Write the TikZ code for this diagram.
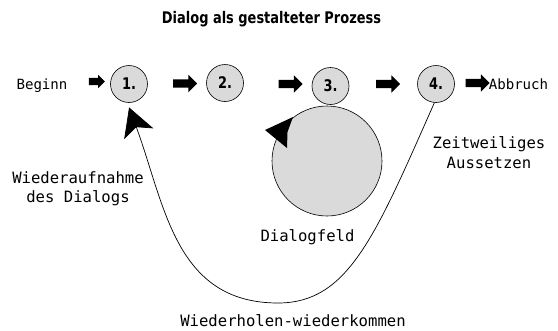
\documentclass[tikz,border=0pt]{standalone}
\usepackage{fontspec}
\setmainfont{DejaVu Sans}
\newfontfamily\monofont{DejaVu Sans Mono}
\usetikzlibrary{shapes.arrows,arrows.meta,calc}
\definecolor{circgray}{RGB}{218,218,218}
\begin{document}
\begin{tikzpicture}[x=1pt,y=-1pt,
  stepc/.style={circle, draw=black, line width=0.6pt, fill=circgray, minimum size=37pt, inner sep=0pt,
    font=\fontsize{16}{16}\selectfont\bfseries},
  blk/.style={single arrow, fill=black, draw=none, minimum height=24pt,
    inner xsep=0pt, inner ysep=4pt,
    single arrow head extend=4.5pt, single arrow head indent=0pt},
  smallblk/.style={blk, minimum height=16pt, inner ysep=3.5pt, single arrow head extend=3pt},
  lbl/.style={font=\monofont\fontsize{15.6}{19.5}\selectfont, align=center, inner sep=0pt},
  sidelbl/.style={font=\monofont\fontsize{14.1}{17}\selectfont, inner sep=0pt},
  loopline/.style={line width=0.7pt},
]
\path[use as bounding box, fill=white] (0,0) rectangle (558,330);

% title
\node[anchor=base, inner sep=0pt, font=\fontsize{16}{16}\selectfont\bfseries] (title) at (271.5,23)
  {\scalebox{0.81}[1]{Dialog als gestalteter Prozess}};

% big circle
\node[circle, draw=black, line width=0.6pt, fill=circgray, minimum size=110pt, inner sep=0pt] (big) at (327,161) {};

% step circles
\node[stepc] (c1) at (129,84) {\scalebox{0.81}[1]{1.}};
\node[stepc] (c2) at (225,83) {\scalebox{0.81}[1]{2.}};
\node[stepc] (c3) at (330.5,86) {\scalebox{0.81}[1]{3.}};
\node[stepc] (c4) at (436,84) {\scalebox{0.81}[1]{4.}};

% side labels
\node[sidelbl, anchor=base] (beginn) at (42,89) {Beginn};
\node[sidelbl, anchor=base] (abbruch) at (518.5,89) {Abbruch};

% block arrows
\node[smallblk] (a0) at (95,81.5) {};
\node[blk] (a1) at (183,83.5) {};
\node[blk] (a2) at (288.5,84) {};
\node[blk] (a3) at (386,84) {};
\node[blk] (a4) at (475.5,83) {};

% texts
\node[lbl] (wieder) at (78,188.5) {Wiederaufnahme\\des Dialogs};
\node[lbl] (zeit) at (489,152.5) {Zeitweiliges\\Aussetzen};
\node[lbl, anchor=base] (feld) at (307.5,241) {Dialogfeld};
\node[lbl, anchor=base] (wh) at (293,326) {Wiederholen-wiederkommen};

% loop curve
\coordinate (bot) at (278,303);
\draw[loopline, shorten >=5pt, -{Stealth[length=28pt,width=31pt,inset=7pt]}]
  (c4.265) .. controls (375,237) and (348,303) .. (bot)
  .. controls (175,303) and (165,205) .. (c1.265);

% arrowhead on the big circle
\fill[black] (265,130) -- (293,117) -- (287.5,132) -- (287,148) -- cycle;
\end{tikzpicture}
\end{document}
